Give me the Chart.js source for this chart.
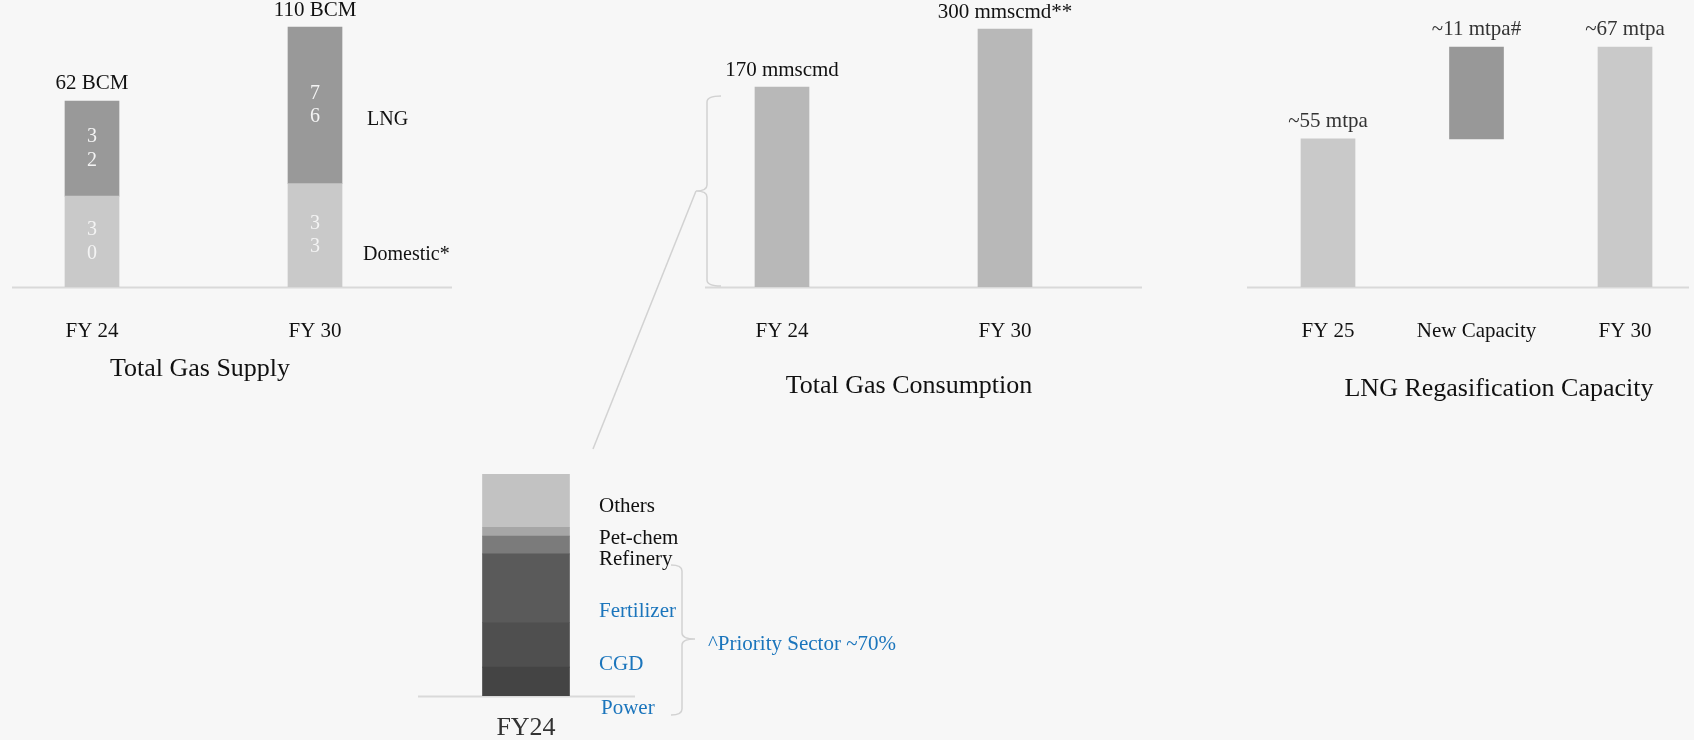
<!DOCTYPE html>
<html>
<head>
<meta charset="utf-8">
<script src="https://cdn.jsdelivr.net/npm/chart.js"></script>
<style>
  html, body { margin: 0; padding: 0; }
  body {
    background: #f7f7f7; width: 1694px; height: 740px; overflow: hidden; position: relative;
    font-family: "Liberation Serif", "Times New Roman", serif; color: #111;
  }
  canvas { position: absolute; }
  .t { position: absolute; white-space: nowrap; line-height: 1; transform: translateY(-50%); }
  .c { transform: translate(-50%, -50%); }
  .blue { color: #1b75bc; }
  svg { position: absolute; left: 0; top: 0; }
</style>
</head>
<body>
<canvas id="supply" width="500" height="347" style="left:-40px;top:0"></canvas>
<canvas id="consumption" width="500" height="347" style="left:650px;top:0"></canvas>
<canvas id="regas" width="480" height="347" style="left:1230px;top:0"></canvas>
<canvas id="sector" width="260" height="300" style="left:400px;top:440px"></canvas>

<svg width="1694" height="740">
  <path d="M721,96 Q707,96 707,102 L707,185 Q707,191 696,191 Q707,191 707,197 L707,280 Q707,286 721,286"
        fill="none" stroke="#d2d2d2" stroke-width="1.5"/>
  <line x1="696" y1="191" x2="593" y2="449" stroke="#d2d2d2" stroke-width="1.5"/>
  <path d="M671,565 Q682,565 682,571 L682,633 Q682,639 695,639 Q682,639 682,645 L682,709 Q682,715 671,715"
        fill="none" stroke="#d2d2d2" stroke-width="1.5"/>
</svg>

<div class="t c" style="left:200px;top:368px;font-size:26px">Total Gas Supply</div>
<div class="t" style="left:367px;top:118px;font-size:20px">LNG</div>
<div class="t" style="left:363px;top:253px;font-size:20px">Domestic*</div>
<div class="t c" style="left:909px;top:385px;font-size:26px">Total Gas Consumption</div>
<div class="t c" style="left:1499px;top:388px;font-size:26px">LNG Regasification Capacity</div>
<div class="t blue" style="left:708px;top:643px;font-size:21px">^Priority Sector ~70%</div>
<div id="sectorLabels"></div>

<script>
// Total gas supply, BCM
const supplyYears = ['FY 24', 'FY 30'];
const supplyDomestic = [30, 33];
const supplyLng = [32, 76];
const supplyTotals = ['62 BCM', '110 BCM'];

// Total gas consumption, mmscmd
const consYears = ['FY 24', 'FY 30'];
const consValues = [170, 300];
const consLabels = ['170 mmscmd', '300 mmscmd**'];

// LNG regasification capacity, mtpa
const regasCats = ['FY 25', 'New Capacity', 'FY 30'];
const regasFY25 = 55;
const regasFY30 = 67;
const regasLabels = ['~55 mtpa', '~11 mtpa#', '~67 mtpa'];

// FY24 consumption split by sector (%), bottom to top
const sectorYear = ['FY24'];
const sectorNames = ['Power', 'CGD', 'Fertilizer', 'Refinery', 'Pet-chem', 'Others'];
const sectorShares = [13, 20, 31, 8, 4, 24];
const sectorColors = ['#444444', '#4f4f4f', '#5a5a5a', '#7b7b7b', '#a6a6a6', '#c2c2c2'];
const prioritySectors = ['Power', 'CGD', 'Fertilizer'];

const FONT = '"Liberation Serif", "Times New Roman", serif';
Chart.defaults.font.family = FONT;

// light grey base line, drawn under the bars
function baseline(from, to) {
  return {
    id: 'baseline',
    beforeDatasetsDraw(chart) {
      const ctx = chart.ctx;
      const y = chart.chartArea.bottom + 0.5;
      ctx.save();
      ctx.strokeStyle = '#d9d9d9';
      ctx.lineWidth = 2;
      ctx.beginPath();
      ctx.moveTo(from, y);
      ctx.lineTo(to, y);
      ctx.stroke();
      ctx.restore();
    }
  };
}

// text above the top of each bar column
function topLabels(labels, offset, color) {
  return {
    id: 'topLabels',
    afterDatasetsDraw(chart) {
      const ctx = chart.ctx;
      ctx.save();
      ctx.font = '21px ' + FONT;
      ctx.fillStyle = color;
      ctx.textAlign = 'center';
      ctx.textBaseline = 'middle';
      labels.forEach((txt, i) => {
        let top = Infinity, x = 0;
        chart.data.datasets.forEach((ds, d) => {
          const el = chart.getDatasetMeta(d).data[i];
          if (el && el.y < top) { top = el.y; x = el.x; }
        });
        ctx.fillText(txt, x, top - offset);
      });
      ctx.restore();
    }
  };
}

// values inside the stacked segments, one digit per line (narrow boxes)
const stackedDigits = {
  id: 'stackedDigits',
  afterDatasetsDraw(chart) {
    const ctx = chart.ctx;
    ctx.save();
    ctx.font = '20px ' + FONT;
    ctx.fillStyle = '#f4f4f4';
    ctx.textAlign = 'center';
    ctx.textBaseline = 'middle';
    chart.data.datasets.forEach((ds, d) => {
      chart.getDatasetMeta(d).data.forEach((el, i) => {
        const chars = String(ds.data[i]).split('');
        const mid = (el.y + el.base) / 2;
        const step = 23.5;
        chars.forEach((ch, k) => {
          ctx.fillText(ch, el.x, mid + (k - (chars.length - 1) / 2) * step);
        });
      });
    });
    ctx.restore();
  }
};

function xAxis(size, color, pad, height) {
  return {
    grid: { display: false, drawTicks: false },
    border: { display: false },
    ticks: { font: { family: FONT, size: size }, color: color, padding: pad },
    afterFit: s => { s.height = height; }
  };
}

const quiet = { legend: { display: false }, tooltip: { enabled: false } };

new Chart(document.getElementById('supply'), {
  type: 'bar',
  data: {
    labels: supplyYears,
    datasets: [
      { label: 'Domestic*', data: supplyDomestic, backgroundColor: '#c9c9c9', barThickness: 54 },
      { label: 'LNG', data: supplyLng, backgroundColor: '#999999', barThickness: 54 }
    ]
  },
  options: {
    responsive: false,
    animation: false,
    layout: { padding: { left: 20.5, right: 33.5, top: 20, bottom: 0 } },
    scales: {
      x: Object.assign(xAxis(21, '#111', 31.4, 60), { stacked: true }),
      y: { type: 'logarithmic', stacked: true, min: 15, max: 115, bounds: 'data', display: false }
    },
    plugins: quiet
  },
  plugins: [baseline(52, 492), topLabels(supplyTotals, 17, '#111'), stackedDigits]
});

new Chart(document.getElementById('consumption'), {
  type: 'bar',
  data: {
    labels: consYears,
    datasets: [{ label: 'Consumption', data: consValues, backgroundColor: '#b8b8b8', barThickness: 54 }]
  },
  options: {
    responsive: false,
    animation: false,
    layout: { padding: { left: 20.5, right: 33.5, top: 20, bottom: 0 } },
    scales: {
      x: xAxis(21, '#111', 31.4, 60),
      y: { type: 'logarithmic', min: 24, max: 328, bounds: 'data', display: false }
    },
    plugins: quiet
  },
  plugins: [baseline(55, 492), topLabels(consLabels, 17, '#111')]
});

new Chart(document.getElementById('regas'), {
  type: 'bar',
  data: {
    labels: regasCats,
    datasets: [{
      label: 'Capacity',
      data: [regasFY25, [regasFY25, regasFY30], regasFY30],
      backgroundColor: ['#c9c9c9', '#989898', '#c9c9c9'],
      barThickness: 54
    }]
  },
  options: {
    responsive: false,
    animation: false,
    layout: { padding: { left: 23.75, right: 10.75, top: 20, bottom: 0 } },
    scales: {
      x: xAxis(21, '#111', 31.4, 60),
      y: { type: 'logarithmic', min: 40, max: 71, bounds: 'data', display: false }
    },
    plugins: quiet
  },
  plugins: [baseline(17, 459), topLabels(regasLabels, 17, '#333')]
});

new Chart(document.getElementById('sector'), {
  type: 'bar',
  data: {
    labels: sectorYear,
    datasets: sectorNames.map((name, i) => ({
      label: name,
      data: [sectorShares[i]],
      backgroundColor: sectorColors[i],
      barThickness: 87
    }))
  },
  options: {
    responsive: false,
    animation: false,
    layout: { padding: { left: 26, right: 34, top: 34, bottom: 0 } },
    scales: {
      x: Object.assign(xAxis(26, '#333', 16.4, 44), { stacked: true }),
      y: { stacked: true, min: 0, max: 100, display: false }
    },
    plugins: quiet
  },
  plugins: [baseline(18, 235)]
});

// sector names to the right of the FY24 bar
const sectorLabelPos = {
  Others: [599, 505], 'Pet-chem': [599, 537], Refinery: [599, 558],
  Fertilizer: [599, 610], CGD: [599, 663], Power: [601, 707]
};
const holder = document.getElementById('sectorLabels');
sectorNames.forEach(name => {
  const div = document.createElement('div');
  div.className = 't' + (prioritySectors.includes(name) ? ' blue' : '');
  div.style.left = sectorLabelPos[name][0] + 'px';
  div.style.top = sectorLabelPos[name][1] + 'px';
  div.style.fontSize = '21px';
  div.textContent = name;
  holder.appendChild(div);
});
</script>
</body>
</html>
